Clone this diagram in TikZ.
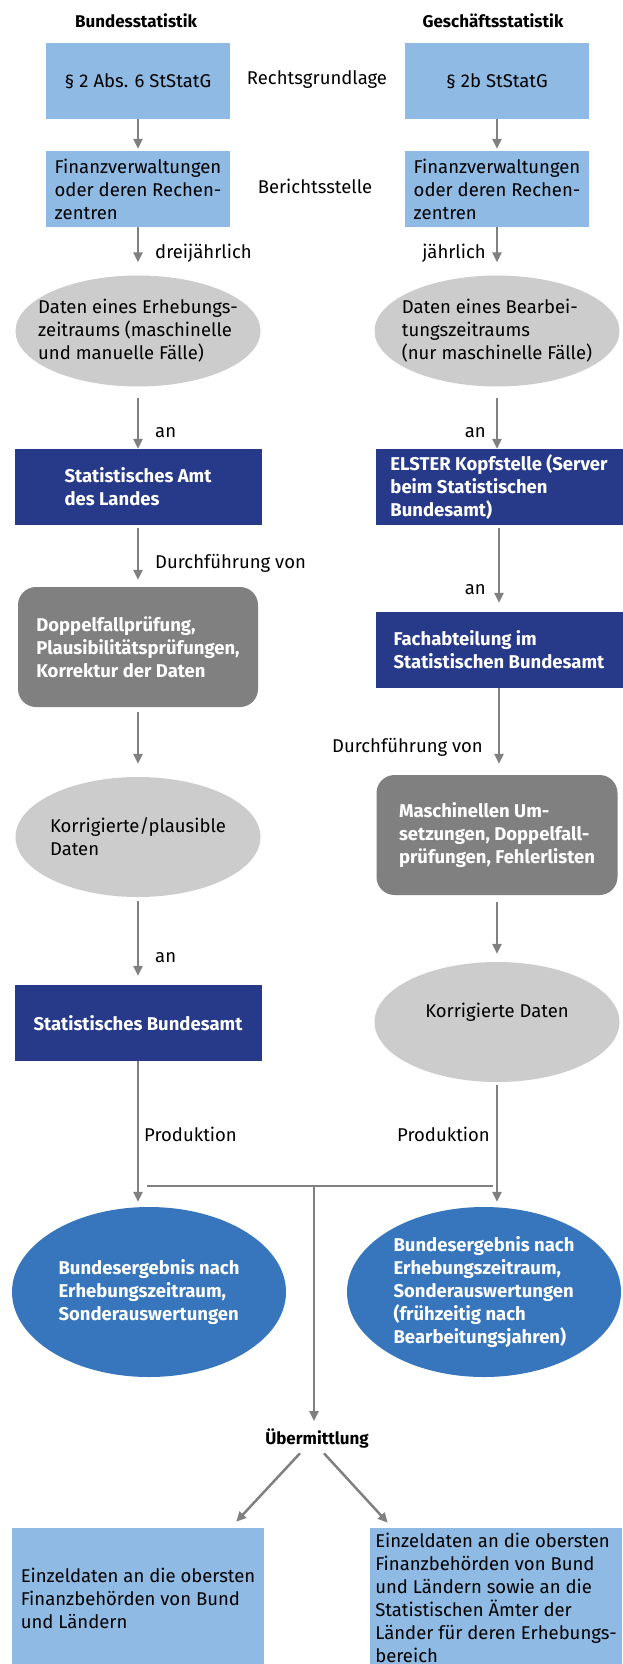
\documentclass[tikz,border=0pt]{standalone}
\usepackage{fontspec}
\setmainfont{Fira Sans}
\usetikzlibrary{arrows.meta,shapes.geometric}
\definecolor{lightblue}{HTML}{8FBAE3}
\definecolor{darkblue}{HTML}{273A89}
\definecolor{midblue}{HTML}{3776BC}
\definecolor{boxgray}{HTML}{808080}
\definecolor{ellgray}{HTML}{CCCCCC}
\definecolor{arrgray}{HTML}{808080}

\begin{document}
\begin{tikzpicture}[
  x=1pt, y=-1pt,
  font=\fontsize{18.5}{23}\selectfont,
  every node/.style={align=left,inner sep=0pt},
  head/.style={font=\fontsize{17}{20}\selectfont\bfseries},
  lbox/.style={rectangle,fill=lightblue,minimum width=184pt,minimum height=76pt},
  dbox/.style={rectangle,fill=darkblue,text=white,font=\fontsize{18.5}{23}\selectfont\bfseries,minimum width=247pt,minimum height=76pt},
  gbox/.style={rectangle,rounded corners=18pt,fill=boxgray,text=white,font=\fontsize{18.5}{23}\selectfont\bfseries,minimum width=240pt,minimum height=120pt},
  ell/.style={ellipse,fill=ellgray,inner sep=-40pt,minimum width=245pt,minimum height=111pt},
  bell/.style={ellipse,fill=midblue,text=white,font=\fontsize{18.5}{23}\selectfont\bfseries,inner sep=-60pt,minimum width=274pt,minimum height=170pt},
  arr/.style={draw=arrgray,line width=2.5pt,-{Triangle[length=10pt,width=9pt]}},
  joint/.style={draw=arrgray,line width=2.5pt}
]
  \useasboundingbox (0,0) rectangle (622,1664);

  \node[head] (hB) at (136,21) {Bundesstatistik};
  \node[head] (hG) at (493,21) {Geschäftsstatistik};

  \node[lbox,align=center] (b1L) at (138,81) {§ 2 Abs. 6 StStatG};
  \node[lbox,align=center] (b1R) at (497,81) {§ 2b StStatG};
  \node (rg) at (317,80) {Rechtsgrundlage};

  \node[lbox] (b2L) at (138,189) {Finanzverwaltungen\\oder deren Rechen-\\zentren};
  \node[lbox] (b2R) at (497,189) {Finanzverwaltungen\\oder deren Rechen-\\zentren};
  \node (bst) at (315,186) {Berichtsstelle};

  \node[ell] (e1L) at (138,331) {Daten eines Erhebungs-\\zeitraums (maschinelle\\und manuelle Fälle)};
  \node[ell] (e1R) at (497,331) {Daten eines Bearbei-\\tungszeitraums\\(nur maschinelle Fälle)};

  \node[dbox] (b3L) at (138,487) {Statistisches Amt\\des Landes};
  \node[dbox] (b3R) at (499,487) {ELSTER Kopfstelle (Server\\beim Statistischen\\Bundesamt)};

  \node[gbox] (g1L) at (138,647) {Doppelfallprüfung,\\Plausibilitätsprüfungen,\\Korrektur der Daten};
  \node[dbox] (b4R) at (499,650) {Fachabteilung im\\Statistischen Bundesamt};

  \node[ell,minimum height=120pt] (e2L) at (138,837) {Korrigierte/plausible\\Daten};
  \node[gbox,minimum width=241pt] (g1R) at (497,835) {Maschinellen Um-\\setzungen, Doppelfall-\\prüfungen, Fehlerlisten};

  \node[dbox] (bsL) at (138,1023) {Statistisches Bundesamt};
  \node[ell,minimum height=120pt] (e2R) at (497,1022) {Korrigierte Daten\\\mbox{}};

  \node[bell] (rL) at (149,1292) {Bundesergebnis nach\\Erhebungszeitraum,\\Sonderauswertungen};
  \node[bell] (rR) at (484,1292) {Bundesergebnis nach\\Erhebungszeitraum,\\Sonderauswertungen\\(frühzeitig nach\\Bearbeitungsjahren)};

  \node[head] (ueb) at (317,1439) {Übermittlung};

  \node[lbox,minimum width=252pt,minimum height=140pt] (zL) at (138,1598) {Einzeldaten an die obersten\\Finanzbehörden von Bund\\und Ländern};
  \node[lbox,minimum width=252pt,minimum height=140pt] (zR) at (496,1598) {Einzeldaten an die obersten\\Finanzbehörden von Bund\\und Ländern sowie an die\\Statistischen Ämter der\\Länder für deren Erhebungs-\\bereich};

  \node[anchor=west] (dj) at (155,253) {dreijährlich};
  \node[anchor=east] (jh) at (486,253) {jährlich};
  \node[anchor=west] (an1) at (155,433) {an};
  \node[anchor=east] (an2) at (486,433) {an};
  \node[anchor=west] (df1) at (155,563) {Durchführung von};
  \node[anchor=east] (an3) at (486,590) {an};
  \node[anchor=east] (df2) at (483,747) {Durchführung von};
  \node[anchor=west] (an4) at (155,958) {an};
  \node[anchor=west] (pr1) at (144,1134) {Produktion};
  \node[anchor=east] (pr2) at (490,1134) {Produktion};

  \coordinate (jnL) at (147,1186);
  \coordinate (jnR) at (493,1186);
  \coordinate (jnM) at (314,1186);

  \draw[arr,shorten >=2pt] (b1L) -- (b2L);
  \draw[arr,shorten >=2pt] (b1R) -- (b2R);
  \draw[arr,shorten >=13pt] (b2L) -- (e1L);
  \draw[arr,shorten >=13pt] (b2R) -- (e1R);
  \draw[arr,shorten <=11pt] (e1L) -- (b3L);
  \draw[arr,shorten <=11pt] (e1R.south) -- (e1R.south |- b3R.north);
  \draw[arr,shorten <=3pt,shorten >=7pt] (b3L) -- (g1L);
  \draw[arr,shorten <=3pt,shorten >=9pt] (b3R) -- (b4R);
  \draw[arr,shorten <=5pt,shorten >=13pt] (g1L) -- (e2L);
  \draw[arr,shorten >=11pt] (b4R.south) -- (b4R.south |- g1R.north);
  \draw[arr,shorten <=4pt,shorten >=9pt] (e2L) -- (bsL);
  \draw[arr,shorten <=7pt,shorten >=8pt] (g1R) -- (e2R);
  \draw[arr,shorten >=5pt] (bsL.south) -- (bsL.south |- rL.north);
  \draw[arr,shorten <=3pt,shorten >=5pt] (e2R.south) -- (e2R.south |- rR.north);
  \draw[joint] (jnL) -- (jnR);
  \draw[arr,shorten >=8pt] (jnM) -- (jnM |- ueb.north);
  \draw[arr,shorten <=6pt] ([xshift=-13pt]ueb.south) -- ([xshift=-28pt,yshift=6pt]zL.north east);
  \draw[arr,shorten <=6pt] ([xshift=3pt]ueb.south) -- ([xshift=18pt,yshift=5pt]zR.north west);
\end{tikzpicture}
\end{document}
